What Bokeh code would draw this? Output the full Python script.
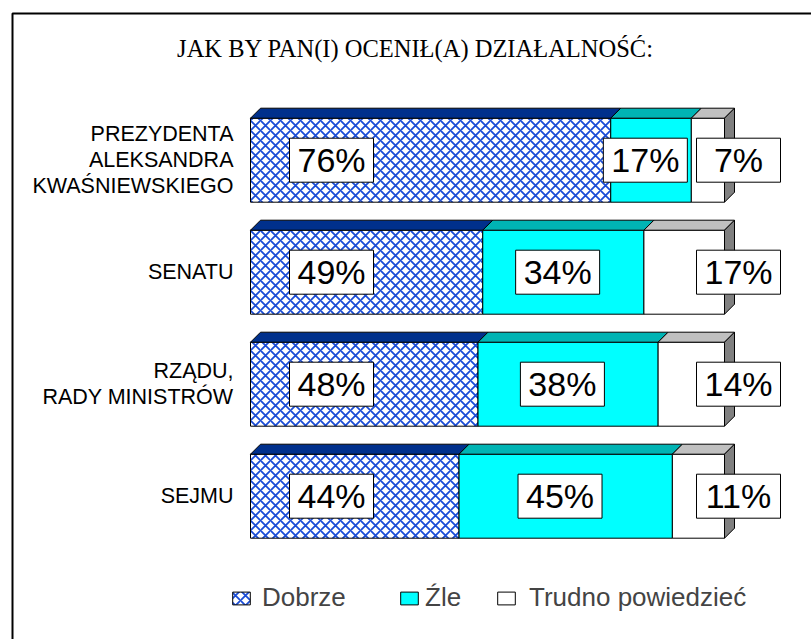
from bokeh.plotting import figure
from bokeh.models import ColumnDataSource, Legend, LegendItem, Range1d
from bokeh.core.properties import value
from bokeh.embed import file_html
from bokeh.resources import INLINE

# ---------------- data ----------------
title_text = "JAK BY PAN(I) OCENIŁ(A) DZIAŁALNOŚĆ:"
categories = ["PREZYDENTA\nALEKSANDRA\nKWAŚNIEWSKIEGO", "SENATU",
              "RZĄDU,\nRADY MINISTRÓW", "SEJMU"]
series_names = ["Dobrze", "Źle", "Trudno powiedzieć"]
dobrze = [76, 49, 48, 44]
zle = [17, 34, 38, 45]
trudno = [7, 17, 14, 11]

# ---------------- layout constants (pixels) ----------------
W, H = 811, 639
PX = 4.74      # pixels per percent
X0 = 250       # pixel of 0 %
ROW = 112      # pixels per category
Y0 = 159.7     # pixel (from top) of first category centre
BAR_H = 84 / ROW
DX = 10 / PX   # 3-D depth
DY = 10 / ROW


def px_x(px):
    return (px - X0) / PX


def px_y(py):
    return (Y0 - py) / ROW


p = figure(width=W, height=H, output_backend="svg", toolbar_location=None,
           x_range=Range1d(px_x(0), px_x(W)), y_range=Range1d(px_y(H), px_y(0)),
           x_axis_location=None, y_axis_location=None, min_border=0)
p.outline_line_color = None
p.grid.visible = False
p.background_fill_color = "white"
p.border_fill_color = "white"

# outer frame
p.quad(left=px_x(12), right=px_x(W + 30), top=px_y(13), bottom=px_y(H + 30),
       fill_alpha=0, line_color="black", line_width=2)

ys = [-i for i in range(len(categories))]
front_colors = ["white", "#00FFFF", "white"]
top_colors = ["#00308C", "#00B4B4", "#C0C0C0"]
series = [dobrze, zle, trudno]

cum = [0] * len(categories)
renderers = []
for k, (name, vals) in enumerate(zip(series_names, series)):
    left = list(cum)
    right = [c + v for c, v in zip(cum, vals)]
    src = ColumnDataSource(dict(left=left, right=right,
                                top=[y + BAR_H / 2 for y in ys],
                                bottom=[y - BAR_H / 2 for y in ys]))
    kw = {}
    if k == 0:
        kw = dict(hatch_pattern="diagonal_cross", hatch_color="#1A4CD6",
                  hatch_scale=10, hatch_weight=1.8)
    r = p.quad(left="left", right="right", top="top", bottom="bottom", source=src,
               fill_color=front_colors[k], line_color="black", line_width=1, **kw)
    renderers.append(r)
    # top face
    xs = [[l, rr, rr + DX, l + DX] for l, rr in zip(left, right)]
    yy = [[y + BAR_H / 2, y + BAR_H / 2, y + BAR_H / 2 + DY, y + BAR_H / 2 + DY] for y in ys]
    p.patches(xs=xs, ys=yy, fill_color=top_colors[k], line_color="black", line_width=1)
    cum = right

# right side face of the last segment
xs = [[r_, r_ + DX, r_ + DX, r_] for r_ in cum]
yy = [[y - BAR_H / 2, y - BAR_H / 2 + DY, y + BAR_H / 2 + DY, y + BAR_H / 2] for y in ys]
p.patches(xs=xs, ys=yy, fill_color="#808080", line_color="black", line_width=1)

# value labels (boxes + text)
BOX_W = 84 / PX
BOX_H = 44 / ROW
lx, ly, lt = [], [], []
for i in range(len(categories)):
    lx.append(px_x(331)); ly.append(ys[i]); lt.append(f"{dobrze[i]}%")
    lx.append(dobrze[i] + zle[i] / 2 - 1.2); ly.append(ys[i]); lt.append(f"{zle[i]}%")
    lx.append(px_x(738)); ly.append(ys[i]); lt.append(f"{trudno[i]}%")
lsrc = ColumnDataSource(dict(x=lx, y=ly, t=lt))
p.rect(x="x", y="y", width=BOX_W, height=BOX_H, source=lsrc,
       fill_color="white", line_color="black", line_width=1)
p.text(x="x", y="y", text="t", source=lsrc, text_align="center",
       text_baseline="middle", text_font=value("Liberation Sans"),
       text_font_size="34px", text_color="black")

# category labels
p.text(x=[px_x(233)] * len(categories), y=ys, text=categories,
       text_align="right", text_baseline="middle",
       text_font=value("Liberation Sans"), text_font_size="21.5px",
       text_line_height=1.08, text_color="black")

# title
p.text(x=[px_x(415)], y=[px_y(48)], text=[title_text], text_align="center",
       text_baseline="middle", text_font=value("Liberation Serif"),
       text_font_size="24.5px", text_color="black")

# legend
legend_x = [232, 400, 497]
legend_standoff = [10, 5, 12]
GW, GH = 22, 16
for name, r, lxp, so in zip(series_names, renderers, legend_x, legend_standoff):
    leg = Legend(items=[LegendItem(label=name, renderers=[r])],
                 location=(lxp - 2, 26), orientation="horizontal",
                 glyph_width=GW, glyph_height=GH, label_standoff=so,
                 label_text_font="Liberation Sans", label_text_font_size="26px",
                 label_height=16, padding=0, margin=0, spacing=0,
                 border_line_alpha=0, background_fill_alpha=0)
    p.add_layout(leg)

open("out.html", "w").write(file_html(p, INLINE))
